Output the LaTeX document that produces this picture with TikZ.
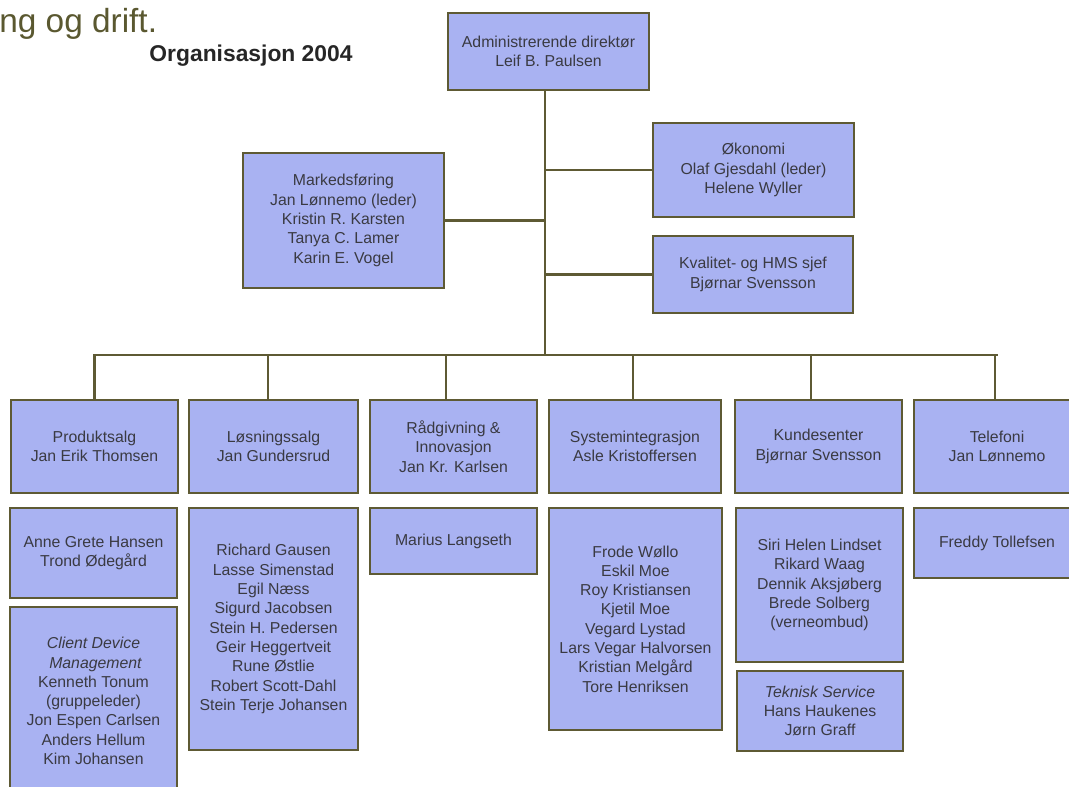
\documentclass[tikz,border=0pt]{standalone}
\usepackage{fontspec}
\setmainfont{Liberation Sans}
\usepackage{tikz}
\usetikzlibrary{positioning,calc}
\definecolor{boxblue}{RGB}{169,178,242}
\definecolor{olivebrd}{RGB}{94,90,52}
\definecolor{olivetxt}{RGB}{90,88,48}
\definecolor{darktxt}{RGB}{58,58,66}

\begin{document}
\begin{tikzpicture}[x=0.02cm,y=-0.02cm,
  unit/.style={draw=olivebrd,line width=1.2pt,fill=boxblue,inner sep=0pt,align=center,text=darktxt,font=\fontsize{9}{11}\selectfont},
  sz/.style 2 args={minimum width=#1*0.02cm,minimum height=#2*0.02cm},
  link/.style={draw=olivebrd,line width=1.3pt,line cap=rect}]
\useasboundingbox (0,0) rectangle (1069,787);
\node[anchor=base west,inner sep=0pt,text=olivetxt,font=\fontsize{19}{23}\selectfont] (head) at (-1,33) {ng og drift.};
\node[anchor=base,inner sep=0pt,text=black!85,font=\fontsize{13}{15}\selectfont\bfseries] (org) at (251,62) {Organisasjon 2004};

\node[unit,sz={201}{77}] (adm) at (548.5,51.5) {Administrerende direktør\\Leif B. Paulsen};
\node[unit,sz={201}{135}] (mark) at (343.5,220.5) {Markedsføring\\Jan Lønnemo (leder)\\Kristin R. Karsten\\Tanya C. Lamer\\Karin E. Vogel};
\node[unit,sz={201}{94}] (oko) at (753.5,170) {Økonomi\\Olaf Gjesdahl (leder)\\Helene Wyller};
\node[unit,sz={200}{77}] (kval) at (753,274.5) {Kvalitet- og HMS sjef\\Bjørnar Svensson};

\node[unit,sz={167}{93}] (prod) at (94.5,446.5) {Produktsalg\\Jan Erik Thomsen};
\node[unit,sz={169}{93}] (losn) at (273.5,446.5) {Løsningssalg\\Jan Gundersrud};
\node[unit,sz={167}{93}] (rad) at (453.5,446.5) {Rådgivning \&\\Innovasjon\\Jan Kr. Karlsen};
\node[unit,sz={172}{93}] (sys) at (635,446.5) {Systemintegrasjon\\Asle Kristoffersen};
\node[unit,sz={167}{93}] (kund) at (818.5,446.5) {Kundesenter\\Bjørnar Svensson};
\node[unit,sz={166}{93}] (tlf) at (997,446.5) {Telefoni\\Jan Lønnemo};

\node[unit,sz={167}{90}] (anne) at (93.5,553) {Anne Grete Hansen\\Trond Ødegård};
\node[unit,sz={167}{188}] (cdm) at (93.5,701) {\textit{Client Device}\\\textit{ Management}\\Kenneth Tonum\\(gruppeleder)\\Jon Espen Carlsen\\Anders Hellum\\Kim Johansen};
\node[unit,sz={169}{242}] (rich) at (273.5,629) {Richard Gausen\\Lasse Simenstad\\Egil Næss\\Sigurd Jacobsen\\Stein H. Pedersen\\Geir Heggertveit\\Rune Østlie\\Robert Scott-Dahl\\Stein Terje Johansen};
\node[unit,sz={167}{66}] (mar) at (453.5,541) {Marius Langseth};
\node[unit,sz={173}{222}] (frode) at (635.5,619) {Frode Wøllo\\Eskil Moe\\Roy Kristiansen\\Kjetil Moe\\Vegard Lystad\\Lars Vegar Halvorsen\\Kristian Melgård\\Tore Henriksen};
\node[unit,sz={167}{154}] (siri) at (819.5,585) {Siri Helen Lindset\\Rikard Waag\\Dennik Aksjøberg\\Brede Solberg\\(verneombud)};
\node[unit,sz={166}{80}] (tek) at (820,711) {\textit{Teknisk Service}\\Hans Haukenes\\Jørn Graff};
\node[unit,sz={166}{70}] (fred) at (997,543) {Freddy Tollefsen};

\coordinate (hub) at (545,355);
\draw[link] (adm.south -| hub) -- (hub);
\draw[link] (mark.east) -- (mark.east -| hub);
\draw[link] (oko.west) -- (oko.west -| hub);
\draw[link] (kval.west) -- (kval.west -| hub);
\draw[link] (hub -| prod.north) -- (hub -| tlf.north);
\foreach \n/\dx in {prod/0,losn/-5.5,rad/-7.5,sys/-2,kund/-7.5,tlf/-2}
  \draw[link] ([xshift=\dx*0.02cm]\n.north) -- ([xshift=\dx*0.02cm]\n.north |- hub);
\end{tikzpicture}
\end{document}
